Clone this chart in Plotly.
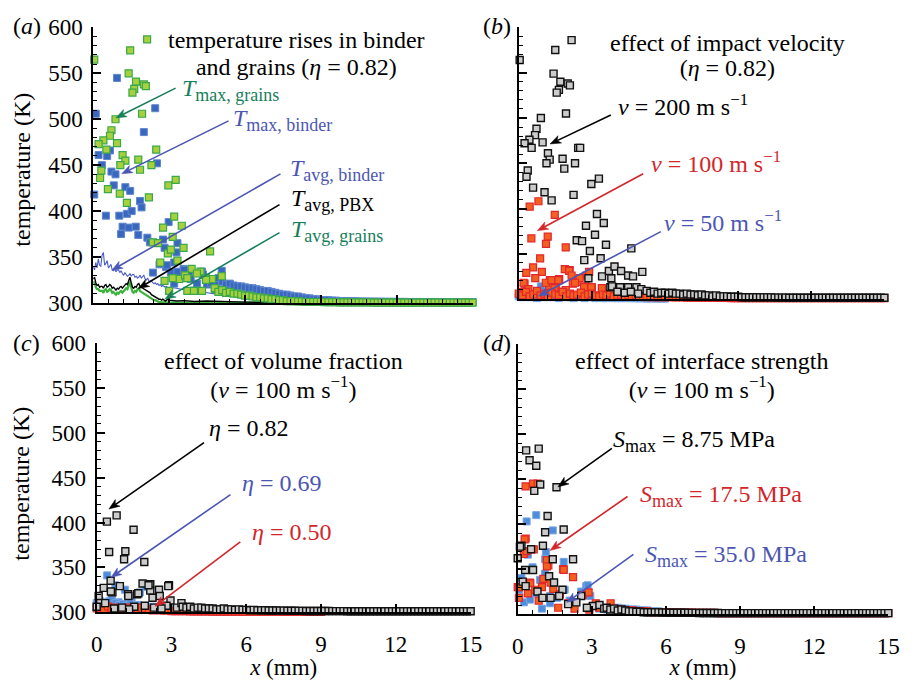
import math
import plotly.graph_objects as go

W, H = 914, 680
FONT = "Liberation Serif"

# ---------------- tick labels ----------------
x_ticks = [0, 3, 6, 9, 12, 15]
y_ticks = [300, 350, 400, 450, 500, 550, 600]
BIN = 0.15  # bin width (mm) of the dense bands

# ---------------- panel (a) ----------------
a_grains_max = [
    (0.04, 565), (2.13, 587), (1.46, 575), (1.40, 550), (1.69, 541), (2.00, 538), (2.08, 536), (1.62, 533),
    (1.55, 529), (0.88, 500), (0.72, 488), (0.66, 482), (0.40, 477), (0.21, 473), (0.94, 474), (0.52, 467),
    (1.93, 506), (2.49, 467), (0.32, 444), (0.27, 436), (1.16, 461), (1.27, 455), (1.07, 450), (1.78, 456),
    (1.85, 445), (2.30, 450), (0.58, 424), (1.05, 419), (2.20, 415), (1.33, 409), (2.97, 428), (3.26, 434),
    (3.20, 394), (2.76, 382), (3.50, 384), (3.14, 372), (2.36, 366), (2.56, 365), (2.95, 354), (3.07, 358),
    (3.57, 360), (4.62, 356), (2.65, 344), (3.33, 346), (2.82, 324), (3.40, 326), (3.89, 337), (4.24, 334),
    (3.63, 330), (4.45, 327), (4.69, 326), (5.08, 329), (4.04, 313), (4.10, 332), (4.46, 325), (4.82, 315),
    (4.30, 313), (3.14, 327), (3.72, 327), (3.72, 313), (3.98, 313), (3.00, 313)]
a_grains_band_start = 4.8
a_grains_band = [316, 312, 314, 311, 312, 310, 310, 309, 308, 308, 307, 306, 306, 305, 305, 304, 304, 303,
                 303, 302, 302, 302, 301.5, 301.5, 301, 301, 301, 301, 301,
                 300.8, 300.8, 300.7, 300.7, 300.6, 300.6, 300.6, 300.5, 300.5, 300.5, 300.5, 300.5, 300.5,
                 300.4, 300.4, 300.4, 300.4, 300.4, 300.4, 300.4, 300.4, 300.4, 300.4, 300.4, 300.4, 300.3,
                 300.3, 300.3, 300.3, 300.3, 300.3, 300.3, 300.3, 300.3, 300.3, 300.3, 300.3, 300.3, 300.3, 300.3]

a_binder_max = [
    (0.10, 506), (0.94, 545), (2.45, 512), (2.00, 486), (0.21, 461), (0.34, 450), (0.66, 466), (0.55, 460),
    (0.04, 418), (0.72, 443), (0.88, 440), (0.81, 428), (1.27, 426), (1.46, 422), (0.50, 395), (1.03, 395),
    (1.33, 397), (1.52, 400), (1.85, 411), (1.91, 404), (1.16, 383), (1.40, 382), (1.68, 383), (1.10, 375),
    (1.78, 374), (2.14, 371), (2.24, 366), (2.52, 452), (2.98, 388), (3.33, 365), (3.29, 355), (2.62, 342),
    (2.88, 339), (3.07, 333), (2.36, 333), (3.20, 344), (3.57, 337), (3.79, 332), (4.30, 334), (5.08, 335),
    (4.82, 323), (2.76, 369), (2.82, 360), (2.91, 341), (3.33, 334), (3.59, 336), (4.34, 331), (4.95, 327),
    (3.20, 321), (4.10, 321), (4.50, 320), (3.85, 326), (4.65, 322)]
a_binder_band_start = 5.1
a_binder_band = [323, 320, 321, 319, 318, 318, 317, 316, 316, 315, 314, 313, 313, 312, 311, 310, 309, 309,
                 308, 307, 307, 306, 305, 305, 304, 304, 303,
                 303, 303, 302.5, 302.5, 302, 302, 302, 301.8, 301.8, 301.6, 301.5, 301.5, 301.4, 301.4,
                 301.3, 301.3, 301.2, 301.2, 301.2, 301.1, 301.1, 301.1, 301, 301, 301, 301, 301, 301, 301,
                 301, 300.9, 300.9, 300.9, 300.9, 300.9, 300.8, 300.8, 300.8, 300.8, 300.8]

# averaged temperatures (lines), sampled every 0.05 mm up to 3 mm, then sparser
avg_x = [0.0, 0.05, 0.1, 0.15, 0.2, 0.25, 0.3, 0.35, 0.4, 0.45, 0.5, 0.55, 0.6, 0.65, 0.7, 0.75, 0.8, 0.85,
         0.9, 0.95, 1.0, 1.05, 1.1, 1.15, 1.2, 1.25, 1.3, 1.35, 1.4, 1.45, 1.5, 1.55, 1.6, 1.65, 1.7, 1.75,
         1.8, 1.85, 1.9, 1.95, 2.0, 2.05, 2.1, 2.15, 2.2, 2.25, 2.3, 2.35, 2.4, 2.45, 2.5, 2.55, 2.6, 2.65,
         2.7, 2.75, 2.8, 2.85, 2.9, 2.95, 3.0, 3.3, 3.6, 4.0, 4.5, 5.0, 5.5, 6.0, 7.0, 8.0, 10.0, 15.0]
avg_binder = [339, 336, 344, 338, 348, 341, 340, 352, 355, 341, 343, 346, 338, 340, 342, 336, 335, 337, 334,
              336, 336, 333, 335, 332, 330, 333, 331, 329, 330, 332, 329, 331, 331, 328, 329, 327, 328, 330,
              327, 329, 330, 326, 325, 327, 324, 323, 324, 322, 321, 322, 320, 321, 319, 320, 318, 319, 318,
              317, 318, 316, 317, 316, 314, 313, 311, 309, 307, 305, 303, 302, 301, 300.5]
avg_pbx = [326, 328, 322, 319, 320, 317, 318, 318, 316, 319, 320, 317, 318, 320, 319, 316, 317, 315, 314,
           316, 315, 317, 318, 316, 318, 319, 321, 320, 324, 328, 322, 317, 316, 318, 317, 320, 321, 318,
           317, 316, 316, 315, 314, 313, 312, 311, 309, 308, 307, 307, 305, 305, 304, 304, 303, 304, 303,
           302, 303, 304, 303, 302, 302.5, 301.5, 302, 301.5, 301, 300.8, 300.6, 300.5, 300.4, 300.3]
avg_grains = [321, 323, 317, 315, 315, 313, 313, 313, 311, 314, 315, 312, 313, 315, 314, 311, 312, 310, 309,
              311, 310, 312, 313, 311, 313, 314, 316, 315, 319, 323, 317, 312, 311, 313, 312, 315, 316, 313,
              312, 311, 311, 310, 309, 308, 307, 306, 305, 304, 303, 303, 302, 302, 301, 301, 300.5, 300.5,
              300.5, 300.3, 300.3, 300.3, 300.3, 300.3, 300.2, 300.2, 300.2, 300.2, 300.2, 300.2, 300.2,
              300.2, 300.2, 300.2]

# ---------------- panel (b) ----------------
b_v200 = [
    (0.04, 564), (2.17, 586), (1.50, 575), (1.43, 549), (1.71, 540), (2.01, 538), (2.10, 536), (1.65, 531),
    (1.56, 528), (1.94, 505), (0.91, 500), (0.73, 488), (0.67, 481), (0.44, 476), (0.24, 472), (0.53, 467),
    (0.98, 473), (2.44, 467), (2.52, 467), (1.20, 461), (1.27, 454), (1.80, 455), (1.14, 450), (2.31, 450),
    (0.37, 442), (0.32, 435), (0.59, 423), (1.06, 418), (1.35, 409), (2.25, 415), (2.98, 427), (3.29, 433),
    (1.87, 444), (3.21, 394), (2.76, 381), (3.49, 384), (3.13, 371), (2.38, 365), (2.60, 364), (3.58, 360),
    (4.62, 356), (2.92, 353), (2.69, 343), (3.36, 345), (2.86, 323), (3.42, 325), (3.80, 323), (3.70, 331),
    (3.93, 336), (4.20, 331), (4.49, 326), (4.69, 325), (5.07, 330), (3.76, 313), (4.16, 313), (4.49, 313),
    (4.83, 313), (5.03, 311), (3.83, 314), (4.05, 308), (4.35, 307), (4.60, 308), (4.90, 306)]
b_v200_band_start = 5.25
b_v200_band = [309, 307, 308, 306, 307, 307, 306, 307, 306, 306, 305, 306, 305, 305, 304, 305, 304, 304, 303,
               304, 303, 303, 303, 302.5, 302.5, 302.5,
               302, 302, 302, 302, 302, 301.8, 301.8, 301.8, 301.8, 301.6, 301.6, 301.6, 301.6, 301.5,
               301.5, 301.5, 301.5, 301.5, 301.5, 301.5, 301.5, 301.5, 301.5, 301.5, 301.5, 301.5, 301.5,
               301.5, 301.5, 301.5, 301.5, 301.5, 301.5, 301.5, 301.5, 301.5, 301.5, 301.5, 301.5, 301.5]

b_v100 = [
    (0.45, 402), (0.81, 408), (1.48, 393), (0.52, 367), (1.19, 369), (1.12, 361), (1.93, 357), (0.88, 345),
    (0.59, 335), (0.95, 330), (0.31, 329), (0.68, 323), (0.24, 317), (0.37, 311), (1.28, 321), (1.66, 322),
    (1.89, 333), (2.09, 332), (2.22, 317), (2.42, 319), (2.78, 326), (2.89, 330), (1.25, 314), (1.52, 312),
    (1.82, 308), (2.76, 314), (3.00, 313), (3.42, 311), (0.10, 308), (0.20, 318), (0.40, 311), (1.11, 318),
    (1.47, 312), (1.93, 310), (2.50, 323), (2.31, 318), (2.68, 313), (2.98, 313), (3.41, 312), (1.34, 321),
    (1.63, 321), (2.07, 331), (2.17, 326)]
b_v100_band = [306, 304, 308, 303, 305, 309, 304, 306, 303, 307, 305, 304, 308, 303, 306, 304, 305, 307, 303,
               305, 306, 304, 303, 305, 304, 306, 303, 304, 305, 303, 304, 303, 304, 303, 303, 302, 303, 302,
               302, 302, 302,
               302, 302, 301.8, 302, 301.8, 301.6, 301.6, 301.5, 301.5, 301.5, 301.4, 301.4, 301.3, 301.3,
               301.2, 301.2, 301.2, 301.1, 301.1, 301.1,
               301, 301, 301, 301, 301, 301, 301, 301, 301, 301, 301, 301, 301, 301, 301, 301, 301, 301, 301,
               301, 301, 301, 301, 301, 301, 301, 301, 301, 301, 301, 301, 301, 301, 301, 301, 301, 301, 301,
               301, 301]
b_v50 = [(1.07, 311), (0.91, 314), (0.50, 306), (0.20, 305)]
b_v50_band = [303, 302, 304, 302, 303, 301, 302, 304, 302, 303, 302, 301, 303, 302, 302, 301, 302, 303, 301,
              302, 302, 301, 302, 301, 301, 302, 301, 301, 301, 301, 301, 301, 300.8, 300.8, 300.8, 300.6,
              300.6, 300.6, 300.5, 300.5, 300.5]

# ---------------- panel (c) ----------------
c_eta82 = [
    (0.41, 401), (0.80, 408), (1.48, 392), (0.50, 367), (1.15, 368), (1.10, 359), (1.91, 356), (0.56, 335),
    (0.28, 327), (0.63, 322), (0.93, 329), (1.26, 320), (1.62, 320), (1.84, 332), (2.15, 331), (2.15, 324),
    (2.50, 325), (2.90, 330), (2.24, 316), (2.53, 318), (2.96, 313), (0.08, 318), (0.14, 310), (0.34, 310),
    (1.02, 305), (1.51, 306), (1.93, 307), (2.30, 305), (2.80, 307), (3.22, 305), (0.57, 323), (1.27, 318),
    (1.67, 321), (2.08, 330), (2.87, 329), (3.40, 310), (0.00, 306), (0.70, 304), (1.30, 303), (2.60, 304)]
c_eta82_band_start = 3.45
c_eta82_band = [306, 305, 306, 304, 305, 305, 304, 304, 304, 303, 303, 304, 303, 303, 302.5, 303, 302.5, 302.5,
                302, 302.5, 302, 302, 302, 301.8, 301.8, 301.8, 301.6, 301.6, 301.5, 301.5, 301.5, 301.4,
                301.4, 301.3, 301.3, 301.3, 301.2, 301.2,
                301.2, 301.2, 301.1, 301.1, 301.1, 301.1, 301, 301, 301, 301, 301, 301, 301, 301, 301, 301,
                301, 301, 301, 301, 301, 301, 301, 301, 301, 301, 301, 301, 301, 301, 301, 301, 301, 301,
                301, 301, 301, 301, 301, 301]
c_eta69 = [(0.42, 341), (0.75, 330), (0.50, 312), (0.88, 311), (2.13, 325), (1.73, 322), (0.60, 314),
           (1.13, 325), (1.96, 328), (2.10, 331), (0.20, 310), (1.40, 312)]
c_eta69_band = [310, 312, 309, 311, 313, 310, 308, 309, 307, 309, 306, 308, 307, 306, 305, 306, 305, 304, 305,
                304, 303, 303, 303, 302, 302, 302, 302, 301, 301, 301, 301, 301, 301, 301, 301, 300.8, 300.8,
                300.8, 300.8, 300.8, 300.8]
c_eta50_band = [304, 305, 303, 306, 304, 305, 303, 304, 305, 303, 304, 303, 305, 304, 303, 302, 303, 302, 302,
                302, 301, 301, 301, 301, 301, 300.8, 300.8, 300.8, 300.7, 300.7, 300.7, 300.6, 300.6, 300.6,
                300.5, 300.5, 300.5, 300.5, 300.5, 300.5, 300.4, 300.4, 300.4, 300.4, 300.4, 300.4, 300.4,
                300.4, 300.4, 300.4, 300.3, 300.3, 300.3, 300.3, 300.3, 300.3, 300.3, 300.3, 300.3, 300.3,
                300.3]

# ---------------- panel (d) ----------------
d_s875 = [
    (0.34, 482), (0.85, 484), (0.48, 471), (0.75, 465), (0.91, 444), (0.67, 437), (1.57, 441), (1.21, 409),
    (1.11, 391), (1.86, 394), (0.15, 376), (0.54, 372), (1.02, 376), (0.00, 362), (1.42, 361), (2.24, 361),
    (0.30, 349), (0.62, 349), (1.27, 342), (0.20, 336), (1.47, 335), (1.81, 327), (1.68, 320), (1.33, 318),
    (2.57, 320), (2.37, 313), (2.04, 311), (3.04, 309), (3.31, 310), (0.09, 375), (0.32, 331), (0.80, 325),
    (1.00, 318), (2.80, 307), (3.50, 306)]
d_s875_band_start = 3.6
d_s875_band = [307, 305, 306, 304, 305, 304, 303, 303, 302.5, 302.5, 302, 302, 302, 301.8, 301.8, 301.6, 301.6,
               301.5, 301.5, 301.5, 301.4, 301.4, 301.3, 301.3, 301.3, 301.2, 301.2, 301.2, 301.1, 301.1,
               301.1, 301, 301, 301, 301, 301, 301,
               301, 301, 301, 301, 301, 301, 301, 301, 301, 301, 301, 301, 301, 301, 301, 301, 301, 301, 301,
               301, 301, 301, 301, 301, 301, 301, 301, 301, 301, 301, 301, 301, 301, 301, 301, 301, 301, 301,
               301, 301]
d_s175 = [
    (0.32, 442), (0.62, 445), (0.81, 445), (0.32, 384), (0.25, 367), (1.24, 354), (0.00, 330), (0.49, 335),
    (1.04, 339), (1.84, 350), (2.24, 341), (0.28, 383), (0.36, 370), (0.65, 372), (1.18, 360), (1.86, 349),
    (1.18, 353), (0.05, 330), (0.51, 334), (0.98, 330), (1.44, 328), (1.71, 322), (2.04, 312), (0.05, 318),
    (0.41, 323), (0.71, 327), (0.85, 315), (1.33, 335), (1.64, 307), (2.63, 321), (2.87, 324), (3.16, 312),
    (3.76, 312), (2.30, 306), (2.90, 305), (3.30, 307)]
d_s175_band_start = 3.9
d_s175_band = [306, 305, 305, 304, 304, 304, 303, 303, 303, 303, 302, 302, 302, 302, 302, 302, 301.5, 301.5,
               301.5, 301.5, 301.5, 301.5, 301.2, 301.2, 301.2, 301.2, 301.2, 301.2, 301, 301, 301, 301, 301,
               301, 301,
               301, 301, 301, 301, 301, 301, 301, 301, 301, 301, 301, 301, 301, 301, 301, 301, 301, 301, 301,
               301, 301, 301, 301, 301, 301, 301, 301, 301, 301, 301, 301, 301, 301, 301, 301, 301, 301, 301,
               301, 301]
d_s350 = [
    (0.36, 403), (0.75, 410), (1.42, 393), (0.41, 366), (1.14, 369), (1.86, 358), (1.86, 350), (0.05, 327),
    (0.25, 313), (0.98, 306), (0.71, 323), (1.31, 320), (1.90, 327), (2.77, 331), (2.57, 325), (2.37, 313),
    (2.94, 320), (1.31, 312), (0.50, 316), (1.60, 318), (2.10, 315), (0.15, 340), (0.90, 338), (1.10, 345),
    (0.60, 352), (3.30, 306), (3.60, 305), (1.11, 361), (2.83, 332)]
d_s350_band_start = 3.75
d_s350_band = [307, 306, 307, 306, 306, 305, 305, 305, 304, 304, 304, 303, 303, 303, 302, 302, 302, 301.5,
               301.5, 301.5, 301.5, 301.5, 301.2, 301.2, 301.2, 301.2, 301.2, 301, 301, 301, 301, 301, 301,
               301, 301, 301,
               301, 301, 301, 301, 301, 301, 301, 301, 301, 301, 301, 301, 301, 301, 301, 301, 301, 301, 301,
               301, 301, 301, 301, 301, 301, 301, 301, 301, 301, 301, 301, 301, 301, 301, 301, 301, 301, 301,
               301, 301]

# ---------------- styles ----------------
GREEN_TXT = "#17805a"
BLUE_TXT = "#4b56b4"
RED_TXT = "#d3262b"

M_GREEN = dict(symbol="square", size=7, color="#a6d03c", line=dict(color="#3aa84a", width=1.2))
M_BLUE = dict(symbol="square", size=7, color="#3a67be", line=dict(color="#5f86cf", width=1))
M_GRAY = dict(symbol="square", size=7, color="#cccccc", line=dict(color="#111111", width=1.4))
M_RED = dict(symbol="square", size=7, color="#f2611f", line=dict(color="#e3262b", width=1.2))
M_LBLUE = dict(symbol="square", size=7, color="#4f8cdb", line=dict(color="#79a6e4", width=1))


def pts(pairs, start=None, band=None):
    xs = [p[0] for p in pairs]
    ys = [p[1] for p in pairs]
    if band is not None:
        xs += [round(start + BIN * i, 3) for i in range(len(band))]
        ys += list(band)
    return xs, ys


fig = go.Figure()


def add_markers(pairs, marker, xa, ya, start=None, band=None):
    xs, ys = pts(pairs, start, band)
    fig.add_trace(go.Scatter(x=xs, y=ys, mode="markers", marker=marker, xaxis=xa, yaxis=ya,
                             cliponaxis=False, showlegend=False, hoverinfo="skip"))


def add_line(xs, ys, color, width, xa, ya):
    fig.add_trace(go.Scatter(x=xs, y=ys, mode="lines", line=dict(color=color, width=width),
                             xaxis=xa, yaxis=ya, cliponaxis=False, showlegend=False, hoverinfo="skip"))


# panel (a)
add_line(avg_x, avg_binder, "#4a5cc8", 1.1, "x", "y")
add_line(avg_x, avg_grains, "#3cb43c", 2.2, "x", "y")
add_line(avg_x, avg_pbx, "#000000", 1.4, "x", "y")
add_markers(a_binder_max, M_BLUE, "x", "y", a_binder_band_start, a_binder_band)
add_markers(a_grains_max, M_GREEN, "x", "y", a_grains_band_start, a_grains_band)
# panel (b)
add_markers(b_v50, M_LBLUE, "x2", "y2", 0.0, b_v50_band)
add_markers(b_v100, M_RED, "x2", "y2", 0.0, b_v100_band)
add_markers(b_v200, M_GRAY, "x2", "y2", b_v200_band_start, b_v200_band)
# panel (c)
add_markers(c_eta69, M_LBLUE, "x3", "y3", 0.0, c_eta69_band)
add_markers([], M_RED, "x3", "y3", 0.0, c_eta50_band)
add_markers(c_eta82, M_GRAY, "x3", "y3", c_eta82_band_start, c_eta82_band)
# panel (d)
add_markers(d_s350, M_LBLUE, "x4", "y4", d_s350_band_start, d_s350_band)
add_markers(d_s175, M_RED, "x4", "y4", d_s175_band_start, d_s175_band)
add_markers(d_s875, M_GRAY, "x4", "y4", d_s875_band_start, d_s875_band)


def xd(l, r):
    return [l / W, r / W]


def yd(top, bottom):
    return [1 - bottom / H, 1 - top / H]


TICKFONT = dict(family=FONT, size=23, color="black")
XTITLE = "<i>x</i> (mm)"


def xaxis(domain, anchor, labels):
    ax = dict(domain=domain, anchor=anchor, range=[0, 15], tickmode="array", tickvals=x_ticks,
              ticktext=[str(v) for v in x_ticks], ticks="inside", ticklen=8, tickwidth=1.5,
              tickcolor="black", showline=True, linecolor="black", linewidth=2, showgrid=False,
              zeroline=False, showticklabels=labels, tickfont=TICKFONT, ticklabelstandoff=10,
              minor=dict(tickmode="linear", tick0=0, dtick=0.6, ticks="inside", ticklen=4, tickwidth=1,
                         tickcolor="black", showgrid=False))
    if labels:
        ax["title"] = dict(text=XTITLE, font=dict(family=FONT, size=23, color="black"), standoff=0)
    return ax


def yaxis(domain, anchor, labels):
    return dict(domain=domain, anchor=anchor, range=[300, 600], tickmode="array", tickvals=y_ticks,
                ticktext=[str(v) for v in y_ticks], ticks="inside", ticklen=8, tickwidth=1.5,
                tickcolor="black", showline=True, linecolor="black", linewidth=2, showgrid=False,
                zeroline=False, showticklabels=labels, tickfont=TICKFONT, ticklabelstandoff=4,
                minor=dict(tickmode="linear", tick0=300, dtick=10, ticks="inside", ticklen=4, tickwidth=1,
                           tickcolor="black", showgrid=False))


annotations = []
shapes = []


def P(x, y):
    return x / W, 1 - y / H


def txt(text, x, y, color="black", size=24, xanchor="left", yanchor="top", angle=0):
    annotations.append(dict(text=text, x=x / W, y=1 - y / H, xref="paper", yref="paper", showarrow=False,
                            font=dict(family=FONT, size=size, color=color), xanchor=xanchor,
                            yanchor=yanchor, textangle=angle, borderpad=0))


def arrow(head, tail, color):
    hx, hy = head
    tx, ty = tail
    d = math.hypot(hx - tx, hy - ty)
    ux, uy = (hx - tx) / d, (hy - ty) / d
    nx, ny = -uy, ux
    L, w, notch = 11.0, 4.2, 3.0
    b1 = (hx - L * ux + w * nx, hy - L * uy + w * ny)
    b2 = (hx - L * ux - w * nx, hy - L * uy - w * ny)
    nb = (hx - (L - notch) * ux, hy - (L - notch) * uy)
    x0, y0 = P(tx, ty)
    x1, y1 = P(*nb)
    shapes.append(dict(type="line", xref="paper", yref="paper", x0=x0, y0=y0, x1=x1, y1=y1,
                       line=dict(color=color, width=1.6)))
    path = "M{},{} L{},{} L{},{} L{},{} Z".format(*P(hx, hy), *P(*b1), *P(*nb), *P(*b2))
    shapes.append(dict(type="path", xref="paper", yref="paper", path=path, fillcolor=color,
                       line=dict(color=color, width=0.5)))


SUB = "<sub><span style='font-size:18px'>%s</span></sub>"
MS = "m s<sup>\u22121</sup>"


def two_lines(l1, l2, x, top, spacing):
    # line spacing is set by the annotation font size (1.3 em); the visible text is 24 px
    size = spacing / 1.3
    text = "<span style='font-size:24px'>%s</span><br><span style='font-size:24px'>%s</span>" % (l1, l2)
    txt(text, x, top, size=size, xanchor="center", yanchor="top")


# panel letters
txt("(<i>a</i>)", 21, 15, xanchor="center", yanchor="middle")
txt("(<i>b</i>)", 501, 15, xanchor="center", yanchor="middle")
txt("(<i>c</i>)", 21, 344, xanchor="center", yanchor="middle")
txt("(<i>d</i>)", 501, 344, xanchor="center", yanchor="middle")

# y-axis titles
txt("temperature (K)", 16, 164, xanchor="center", yanchor="middle", angle=-90)
txt("temperature (K)", 15, 490, xanchor="center", yanchor="middle", angle=-90)

# titles
two_lines("temperature rises in binder", "and grains (<i>\u03b7</i> = 0.82)", 296, 15, 27)
two_lines("effect of impact velocity", "(<i>\u03b7</i> = 0.82)", 736, 18, 25)
two_lines("effect of volume fraction", "(<i>v</i> = 100 " + MS + ")", 283, 348, 28.5)
two_lines("effect of interface strength", "(<i>v</i> = 100 " + MS + ")", 709, 348, 28.5)

# panel (a) labels
txt("<i>T</i>" + SUB % "max, grains", 179, 64, GREEN_TXT)
arrow((112, 110), (173, 79), GREEN_TXT)
txt("<i>T</i>" + SUB % "max, binder", 231, 96, BLUE_TXT)
arrow((118, 168), (227, 113), BLUE_TXT)
txt("<i>T</i>" + SUB % "avg, binder", 289, 147, BLUE_TXT)
arrow((108, 268), (280, 168), BLUE_TXT)
txt("<i>T</i>" + SUB % "avg, PBX", 290, 179, "black")
arrow((135, 287), (279, 200), "black")
txt("<i>T</i>" + SUB % "avg, grains", 290, 211, GREEN_TXT)
arrow((162, 298), (279, 229), GREEN_TXT)

# panel (b) labels
txt("<i>v</i> = 200 " + MS, 623, 113, "black", yanchor="bottom")
arrow((555, 137), (617, 107), "black")
txt("<i>v</i> = 100 " + MS, 657, 172, RED_TXT, yanchor="bottom")
arrow((542, 227), (650, 168), RED_TXT)
txt("<i>v</i> = 50 " + MS, 670, 234, BLUE_TXT, yanchor="bottom")
arrow((543, 295), (668, 228), BLUE_TXT)

# panel (c) labels
txt("<i>\u03b7</i> = 0.82", 206, 417)
arrow((105, 516), (202, 447), "black")
txt("<i>\u03b7</i> = 0.69", 240, 474, BLUE_TXT)
arrow((107, 587), (229, 501), BLUE_TXT)
txt("<i>\u03b7</i> = 0.50", 250, 525, RED_TXT)
arrow((152, 617), (239, 550), RED_TXT)

# panel (d) labels
txt("<i>S</i>" + SUB % "max" + " = 8.75 MPa", 618, 429)
arrow((563, 493), (618, 453), "black")
txt("<i>S</i>" + SUB % "max" + " = 17.5 MPa", 646, 486, RED_TXT)
arrow((555, 559), (634, 503), RED_TXT)
txt("<i>S</i>" + SUB % "max" + " = 35.0 MPa", 651, 548, BLUE_TXT)
arrow((572, 613), (640, 563), BLUE_TXT)

fig.update_layout(
    width=W, height=H, margin=dict(l=0, r=0, t=0, b=0), paper_bgcolor="white", plot_bgcolor="white",
    showlegend=False, font=dict(family=FONT, size=23, color="black"),
    xaxis=xaxis(xd(89, 476), "y", False), yaxis=yaxis(yd(16, 302), "x", True),
    xaxis2=xaxis(xd(523, 896), "y2", False), yaxis2=yaxis(yd(16, 298), "x2", False),
    xaxis3=xaxis(xd(92.5, 474), "y3", True), yaxis3=yaxis(yd(344, 623), "x3", True),
    xaxis4=xaxis(xd(522, 900), "y4", True), yaxis4=yaxis(yd(345, 625), "x4", False),
    annotations=annotations, shapes=shapes,
)

fig.write_html("out.html")
